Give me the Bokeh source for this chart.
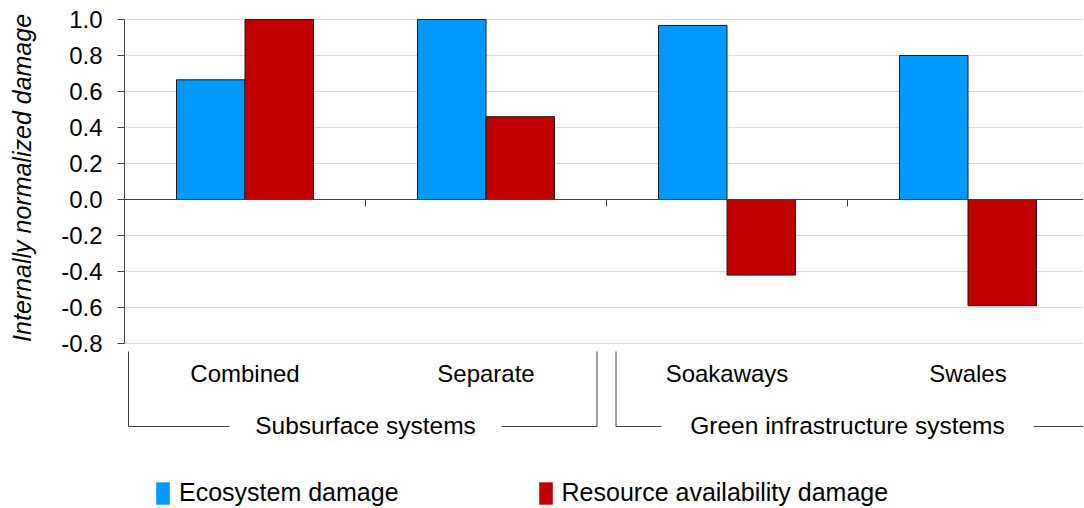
import numpy as np
from bokeh.plotting import figure
from bokeh.layouts import row
from bokeh.models import (Range1d, FixedTicker, NumeralTickFormatter, Span,
                          Legend, LegendItem, ColumnDataSource)
from bokeh.core.properties import value
from bokeh.embed import file_html
from bokeh.resources import INLINE

# ---------------- data ----------------
categories = ["Combined", "Separate", "Soakaways", "Swales"]
groups = ["Subsurface systems", "Green infrastructure systems"]
group_sizes = [2, 2]
ecosystem = [0.665, 1.0, 0.967, 0.80]
resource = [1.0, 0.46, -0.42, -0.59]
y_ticks = [-0.8, -0.6, -0.4, -0.2, 0.0, 0.2, 0.4, 0.6, 0.8, 1.0]
series_names = ["Ecosystem damage", "Resource availability damage"]
y_title = "Internally normalized damage"

# ---------------- style / layout ----------------
BLUE = "#0099FF"
RED = "#C00000"
AXIS = "#404040"
GRID = "#d9d9d9"
FONT = "Liberation Sans"

ORIGIN = 1
W, H = 1083, 507
TITLE_W = 45                            # narrow strip holding the y title
BORDER_L, BORDER_T = 124, 11
MAIN_W = W - TITLE_W
MAIN_BORDER_L = BORDER_L - TITLE_W
FRAME_W = W - BORDER_L
FRAME_H = H - BORDER_T
PAGE_FRAME_LEFT = ORIGIN + BORDER_L   # 125
PAGE_FRAME_TOP = ORIGIN + BORDER_T    # 12
CAT_PX = 241.0                        # pixels per category
UNIT_PX = 180.0                       # pixels per 1.0 of value
Y_MAX_PAGE = 20                       # page row of the axis top (1.0)
TEXT_SHIFT = 8.5                      # svg baseline correction

X_END = FRAME_W / CAT_PX
Y_END = 1.0 + (Y_MAX_PAGE - PAGE_FRAME_TOP) / UNIT_PX
Y_START = Y_END - FRAME_H / UNIT_PX
yr = Range1d(Y_START, Y_END)


def yv(page_y):
    return Y_END - (page_y - PAGE_FRAME_TOP) / UNIT_PX


def xv(px):
    return px / CAT_PX


BAR_W = 68.5 / CAT_PX

# ---------- title strip ----------
t = figure(width=TITLE_W, height=H, output_backend="svg", toolbar_location=None,
           x_range=Range1d(0, TITLE_W), y_range=yr,
           x_axis_location=None, y_axis_location=None,
           min_border_left=0, min_border_right=0, min_border_top=BORDER_T,
           min_border_bottom=0)
t.outline_line_color = None
t.grid.visible = False
t.text(x=[22 - ORIGIN], y=[(min(y_ticks) + max(y_ticks)) / 2 + 0.02], text=[y_title],
       angle=np.pi / 2, text_align="center", text_baseline="middle",
       text_font=value(FONT), text_font_style="italic", text_font_size="25px",
       text_color="#000000")

# ---------- main chart ----------
p = figure(width=MAIN_W, height=H, output_backend="svg", toolbar_location=None,
           x_range=Range1d(0, X_END), y_range=yr,
           x_axis_location=None, min_border_left=MAIN_BORDER_L, min_border_top=BORDER_T,
           min_border_right=0, min_border_bottom=0)
p.outline_line_color = None
p.xgrid.visible = False
p.ygrid.grid_line_color = GRID
p.ygrid.grid_line_width = 1.2

ya = p.yaxis[0]
ya.ticker = FixedTicker(ticks=y_ticks)
ya.formatter = NumeralTickFormatter(format="0.0")
ya.bounds = (min(y_ticks), max(y_ticks))
ya.axis_line_color = AXIS
ya.major_tick_line_color = AXIS
ya.major_tick_out = 7
ya.major_tick_in = 0
ya.minor_tick_line_color = None
ya.major_label_text_font = FONT
ya.major_label_text_font_size = "24px"
ya.major_label_text_color = "#000000"
ya.major_label_standoff = 15

idx = np.arange(len(categories))
centers = idx + 0.5
src = ColumnDataSource(dict(xe=centers - BAR_W / 2, xr=centers + BAR_W / 2,
                            eco=ecosystem, res=resource))
p.vbar(x="xe", top="eco", bottom=0, width=BAR_W, source=src,
       fill_color=BLUE, line_color="#1a1a1a", line_width=1)
p.vbar(x="xr", top="res", bottom=0, width=BAR_W, source=src,
       fill_color=RED, line_color="#1a1a1a", line_width=1)

# zero line (category axis) with ticks between categories
p.add_layout(Span(location=0, dimension="width", line_color=AXIS, line_width=1))
bounds = np.arange(1, len(categories))
p.segment(x0=bounds, x1=bounds, y0=0, y1=-7 / UNIT_PX, line_color=AXIS, line_width=1)

# category labels
p.text(x=centers, y=yv(382 - TEXT_SHIFT), text=categories, text_align="center",
       text_baseline="alphabetic", text_font=value(FONT), text_font_size="24px",
       text_color="#000000")

# group labels and brackets
label_half_px = [112, 162]
starts = np.cumsum([0] + group_sizes[:-1])
ends = starts + np.array(group_sizes)
gcenters = (starts + ends) / 2.0
p.text(x=gcenters, y=yv(434 - TEXT_SHIFT), text=groups, text_align="center",
       text_baseline="alphabetic", text_font=value(FONT), text_font_size="24.5px",
       text_color="#000000")

bx0, bx1, by0, by1 = [], [], [], []
top_y, bot_y = yv(352), yv(427)
for gi, (s, e, c) in enumerate(zip(starts, ends, gcenters)):
    left = s + xv(4 if gi == 0 else 9.5)
    right = e - xv(9.5)
    if gi == len(groups) - 1:
        right = e + 0.2  # runs off the right edge
    gap = xv(label_half_px[gi] + 24)
    bx0 += [left, right]; bx1 += [left, right]; by0 += [top_y, top_y]; by1 += [bot_y, bot_y]
    bx0 += [left, c + gap]; bx1 += [c - gap, right]; by0 += [bot_y, bot_y]; by1 += [bot_y, bot_y]
p.segment(x0=bx0, x1=bx1, y0=by0, y1=by1, line_color=AXIS, line_width=1)

# legend (zero-width proxies so the swatches have no outline)
lr1 = p.vbar(x="xe", top="eco", width=0, source=src, fill_color=BLUE, line_color=None)
lr2 = p.vbar(x="xr", top="res", width=0, source=src, fill_color=RED, line_color=None)
legend = Legend(items=[LegendItem(label=series_names[0], renderers=[lr1]),
                       LegendItem(label=series_names[1], renderers=[lr2])],
                orientation="horizontal", location=(30, 0),
                glyph_width=17, glyph_height=28, label_height=28,
                label_standoff=8, spacing=138, padding=0, margin=0,
                border_line_color=None, background_fill_alpha=0,
                label_text_font=FONT, label_text_font_size="25px",
                label_text_color="#000000")
p.add_layout(legend)

layout = row(t, p, spacing=0)
open("out.html", "w").write(file_html(layout, INLINE))
